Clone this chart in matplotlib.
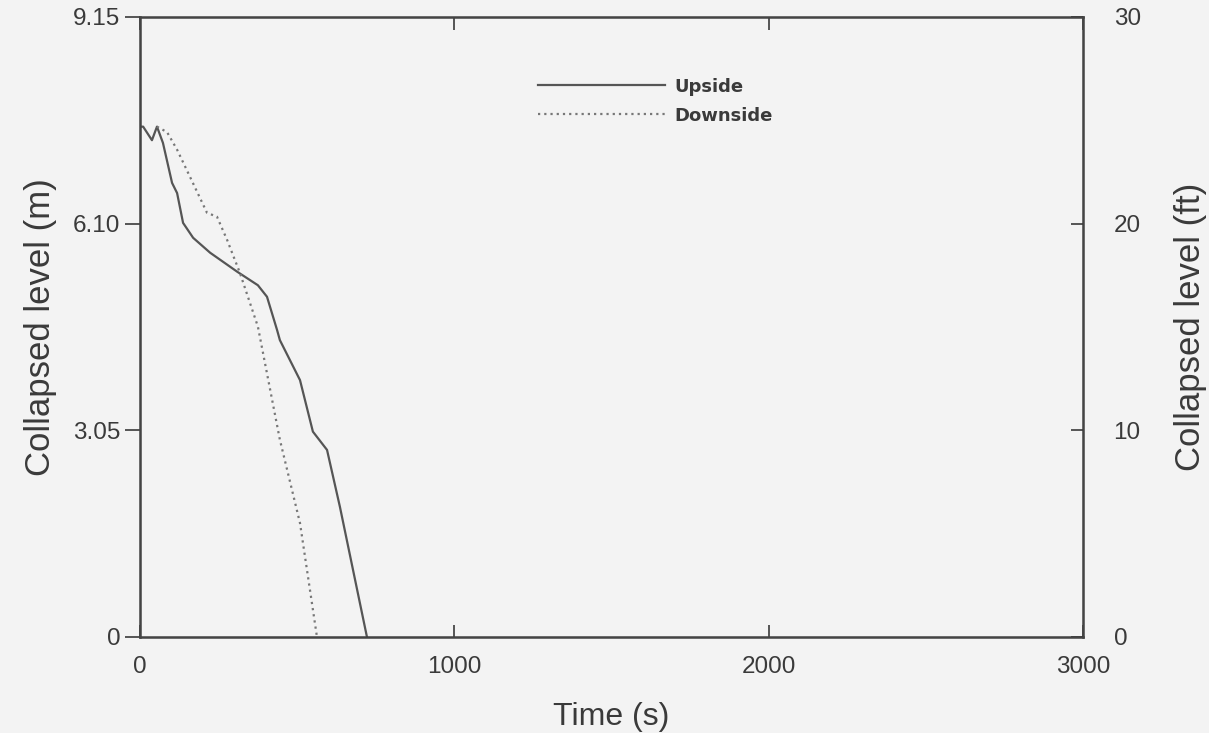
import numpy as np
import matplotlib
matplotlib.use('Agg')
import matplotlib.pyplot as plt

plt.rcParams.update({
    'font.family': ['Liberation Sans', 'DejaVu Sans'],
    'figure.facecolor': '#f3f3f3', 'axes.facecolor': '#f3f3f3',
    'text.color': '#3a3a3a', 'axes.labelcolor': '#3a3a3a',
    'xtick.color': '#3a3a3a', 'ytick.color': '#3a3a3a',
    'axes.edgecolor': '#444444',
})

# ── Data ───────────────────────────────────────────────────────────────────
t_up = [0, 10, 38, 54, 73, 102, 118, 137, 169, 223, 309, 375, 404, 436,
        445, 509, 550, 595, 636, 722]
lvl_up = [7.53, 7.53, 7.33, 7.53, 7.29, 6.70, 6.55, 6.11, 5.89, 5.67, 5.39,
          5.19, 5.02, 4.53, 4.38, 3.79, 3.03, 2.76, 1.92, 0.0]

t_down = [54, 86, 118, 159, 213, 245, 277, 318, 375, 445, 509, 563]
lvl_down = [7.53, 7.45, 7.19, 6.79, 6.26, 6.20, 5.86, 5.37, 4.58, 2.91,
            1.68, 0.0]

x_ticks = [0, 1000, 2000, 3000]
y_ticks_m = [0, 3.05, 6.10, 9.15]
y_labels_m = ['0', '3.05', '6.10', '9.15']
y_ticks_ft = [0, 10, 20, 30]

# ── Figure ─────────────────────────────────────────────────────────────────
fig = plt.figure(figsize=(12.09, 7.33), dpi=100)
ax = fig.add_axes([0.1158, 0.131, 0.780, 0.846])

ax.plot(t_up, lvl_up, color='#555555', lw=1.6, label='Upside')
ax.plot(t_down, lvl_down, color='#777777', lw=1.6, ls=(0, (1.0, 1.8)),
        label='Downside')

ax.set_xlim(0, 3000)
ax.set_ylim(0, 9.15)
ax.set_xticks(x_ticks)
ax.set_yticks(y_ticks_m)
ax.set_yticklabels(y_labels_m)
ax.tick_params(axis='x', direction='in', length=9, width=1.2,
               labelsize=17.5, pad=14, top=True)
ax.tick_params(axis='y', direction='out', length=11, width=1.2,
               labelsize=17.5, pad=3)
for s in ax.spines.values():
    s.set_linewidth(1.8)

ax.set_xlabel('Time (s)', fontsize=23, labelpad=17)
ax.set_ylabel('Collapsed level (m)', fontsize=25, labelpad=12)

ax2 = ax.twinx()
ax2.set_ylim(0, 30)
ax2.set_yticks(y_ticks_ft)
ax2.tick_params(axis='y', direction='in', length=9, width=1.2,
                labelsize=17.5, pad=22)
ax2.set_ylabel('Collapsed level (ft)', fontsize=25, labelpad=24)

leg = ax.legend(loc='upper left', bbox_to_anchor=(0.405, 0.928),
                frameon=False, handlelength=7.0, handletextpad=0.55,
                labelspacing=0.6,
                prop={'family': 'DejaVu Sans', 'size': 13, 'weight': 'bold'})

fig.savefig('out.png', dpi=100, facecolor=fig.get_facecolor())
